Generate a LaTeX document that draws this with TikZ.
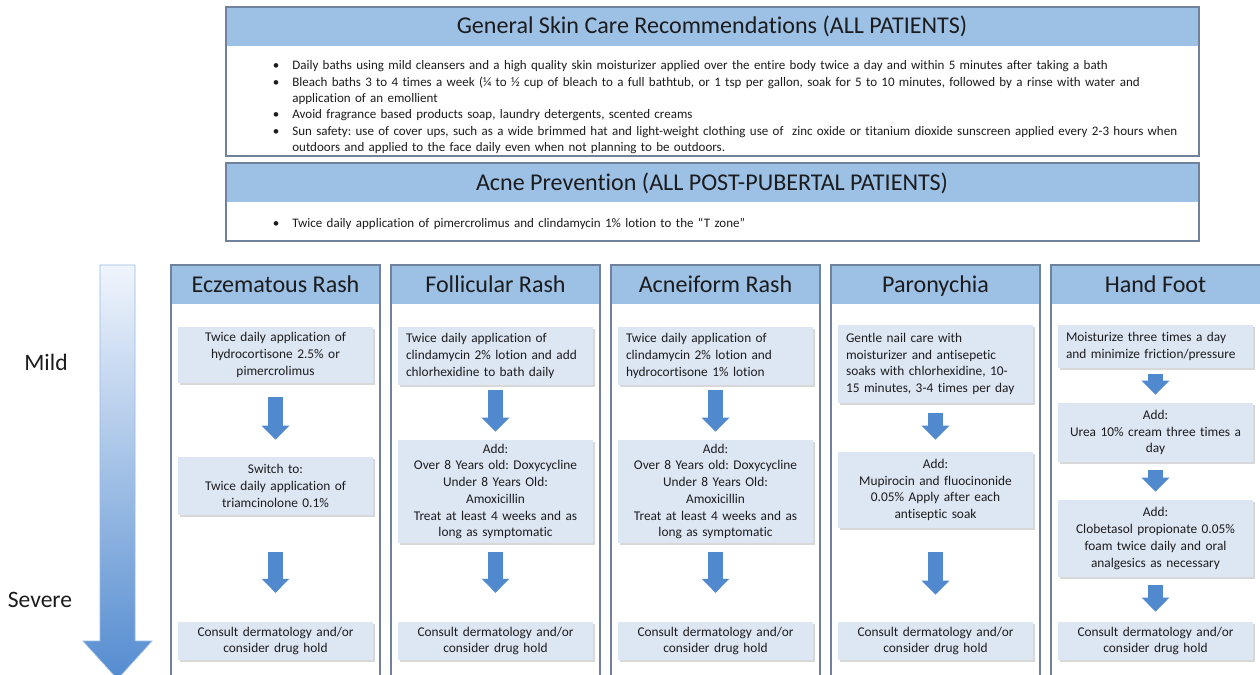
\documentclass[tikz,border=0pt]{standalone}
\usepackage{fontspec}
\setmainfont{Carlito}[Ligatures={TeX,NoCommon}]
\usepackage{enumitem}
\usetikzlibrary{arrows.meta,shadows}
\definecolor{bandblue}{RGB}{157,193,229}
\definecolor{panelline}{RGB}{112,130,155}
\definecolor{stepfill}{RGB}{221,231,243}
\definecolor{arrowblue}{RGB}{80,137,206}
\definecolor{bigtop}{RGB}{240,245,252}
\definecolor{bigbottom}{RGB}{84,140,208}
\definecolor{inkgray}{RGB}{28,28,30}
\frenchspacing
\begin{document}
\begin{tikzpicture}[x=0.02cm, y=0.02cm]
                \tikzstyle{every node}+=[inner sep=0pt, text=inkgray]
                \tikzstyle{panel}=[draw=panelline, line width=0.6pt]
                \tikzstyle{band}=[fill=bandblue]
                \tikzstyle{toptitle}=[font=\fontsize{13.7}{16}\selectfont]
                \tikzstyle{coltitle}=[anchor=base, font=\fontsize{13.7}{16}\selectfont]
                \tikzstyle{level}=[font=\fontsize{13.4}{15}\selectfont]
                \tikzstyle{bullets}=[anchor=north west, text width=18.4cm, font=\fontsize{7.4}{9.3}\selectfont]
                \tikzstyle{stepbox}=[fill=stepfill, drop shadow={shadow xshift=1.2pt, shadow yshift=-1.2pt, opacity=0.3}, minimum width=3.9cm, inner xsep=0.16cm, text width=3.58cm, align=center, font=\fontsize{7.6}{9.5}\selectfont]
                \tikzstyle{fatarrow}=[draw=arrowblue, line width=8.5pt, -{Triangle[width=15.3pt, length=8pt]}]
                \useasboundingbox (0,0) rectangle (1260,-675);
                \clip (0,0) rectangle (1260,-675);
                \fill [white] (0,0) rectangle (1260,-675);
                \fill [band] (226,-7) rectangle (1199,-46);
                \draw [panel] (226,-7) rectangle (1199,-156);
                \draw (712,-26) node [toptitle] (gentitle) {General Skin Care Recommendations (ALL PATIENTS)};
                \draw (270,-53) node [bullets] (genlist) {\begin{itemize}[nosep, leftmargin=0.44cm, labelsep=0.26cm, label=\textbullet]
                \item Daily baths using mild cleansers and a high quality skin moisturizer applied over the entire body twice a day and within 5 minutes after taking a bath
                \item Bleach baths 3 to 4 times a week (¼ to ½ cup of bleach to a full bathtub, or 1 tsp per gallon, soak for 5 to 10 minutes, followed by a rinse with water and\\ application of an emollient
                \item Avoid fragrance based products soap, laundry detergents, scented creams
                \item Sun safety: use of cover ups, such as a wide brimmed hat and light-weight clothing use of \ zinc oxide or titanium dioxide sunscreen applied every 2-3 hours when\\ outdoors and applied to the face daily even when not planning to be outdoors.
                \end{itemize}};
                \fill [band] (226,-163) rectangle (1199,-202);
                \draw [panel] (226,-163) rectangle (1199,-241);
                \draw (712,-183) node [toptitle] (acnetitle) {Acne Prevention (ALL POST-PUBERTAL PATIENTS)};
                \draw (270,-211) node [bullets] (acnelist) {\begin{itemize}[nosep, leftmargin=0.44cm, labelsep=0.26cm, label=\textbullet]
                \item Twice daily application of pimercrolimus and clindamycin 1\% lotion to the ``T zone''
                \end{itemize}};
                \shade [top color=bigtop, bottom color=bigbottom, draw=bigbottom!60, line width=0.4pt] (100,-265) -- (135,-265) -- (135,-641) -- (152,-641) -- (117.5,-679) -- (83,-641) -- (100,-641) -- cycle;
                \draw (46,-362) node [level] (mild) {Mild};
                \draw (40,-600) node [level] (severe) {Severe};
                \fill [band] (171,-265) rectangle (380,-304);
                \draw [panel] (171,-690) -- (171,-265) -- (380,-265) -- (380,-690);
                \draw (275.5,-292.5) node [coltitle] (ecztitle) {Eczematous Rash};
                \fill [band] (391,-265) rectangle (600,-304);
                \draw [panel] (391,-690) -- (391,-265) -- (600,-265) -- (600,-690);
                \draw (495.5,-292.5) node [coltitle] (foltitle) {Follicular Rash};
                \fill [band] (611,-265) rectangle (820,-304);
                \draw [panel] (611,-690) -- (611,-265) -- (820,-265) -- (820,-690);
                \draw (715.5,-292.5) node [coltitle] (acntitle) {Acneiform Rash};
                \fill [band] (831,-265) rectangle (1040,-304);
                \draw [panel] (831,-690) -- (831,-265) -- (1040,-265) -- (1040,-690);
                \draw (935.5,-292.5) node [coltitle] (partitle) {Paronychia};
                \fill [band] (1051,-265) rectangle (1262,-304);
                \draw [panel] (1051,-690) -- (1051,-265) -- (1262,-265);
                \draw (1155.5,-292.5) node [coltitle] (handtitle) {Hand Foot};
                \draw (275.5,-355) node [stepbox, minimum height=1.12cm] (ecz1) {Twice daily application of\\ hydrocortisone 2.5\% or\\ pimercrolimus};
                \draw (275.5,-486) node [stepbox, minimum height=1.16cm] (ecz2) {Switch to:\\ Twice daily application of\\ triamcinolone 0.1\%};
                \draw (275.5,-641) node [stepbox, minimum height=0.76cm] (ecz3) {Consult dermatology and/or\\ consider drug hold};
                \draw [fatarrow, shorten <=7.9pt, shorten >=9.6pt] (ecz1.south) -- (ecz2.north);
                \draw [fatarrow, shorten <=21pt, shorten >=16.4pt] (ecz2.south) -- (ecz3.north);
                \draw (495.5,-356) node [stepbox, minimum height=1.16cm, align=left] (fol1) {Twice daily application of\\ clindamycin 2\% lotion and add\\ chlorhexidine to bath daily};
                \draw (495.5,-491.5) node [stepbox, minimum height=2.06cm] (fol2) {Add:\\ Over 8 Years old: Doxycycline\\ Under 8 Years Old:\\ Amoxicillin\\ Treat at least 4 weeks and as\\ long as symptomatic};
                \draw (495.5,-641) node [stepbox, minimum height=0.76cm] (fol3) {Consult dermatology and/or\\ consider drug hold};
                \draw [fatarrow, shorten <=2.8pt, shorten >=4.5pt] (fol1.south) -- (fol2.north);
                \draw [fatarrow, shorten <=5.1pt, shorten >=16.4pt] (fol2.south) -- (fol3.north);
                \draw (715.5,-356) node [stepbox, minimum height=1.16cm, align=left] (acn1) {Twice daily application of\\ clindamycin 2\% lotion and\\ hydrocortisone 1\% lotion};
                \draw (715.5,-491.5) node [stepbox, minimum height=2.06cm] (acn2) {Add:\\ Over 8 Years old: Doxycycline\\ Under 8 Years Old:\\ Amoxicillin\\ Treat at least 4 weeks and as\\ long as symptomatic};
                \draw (715.5,-641) node [stepbox, minimum height=0.76cm] (acn3) {Consult dermatology and/or\\ consider drug hold};
                \draw [fatarrow, shorten <=2.8pt, shorten >=4.5pt] (acn1.south) -- (acn2.north);
                \draw [fatarrow, shorten <=5.1pt, shorten >=16.4pt] (acn2.south) -- (acn3.north);
                \draw (935.5,-364) node [stepbox, minimum height=1.56cm, align=left] (par1) {Gentle nail care with\\ moisturizer and antisepetic\\ soaks with chlorhexidine, 10-\\ 15 minutes, 3-4 times per day};
                \draw (935.5,-490) node [stepbox, minimum height=1.52cm] (par2) {Add:\\ Mupirocin and fluocinonide\\ 0.05\% Apply after each\\ antiseptic soak};
                \draw (935.5,-641) node [stepbox, minimum height=0.76cm] (par3) {Consult dermatology and/or\\ consider drug hold};
                \draw [fatarrow, shorten <=5.7pt, shorten >=6.8pt] (par1.south) -- (par2.north);
                \draw [fatarrow, shorten <=13.6pt, shorten >=15.3pt] (par2.south) -- (par3.north);
                \draw (1155.5,-346.5) node [stepbox, minimum height=0.86cm, align=left] (hand1) {Moisturize three times a day\\ and minimize friction/pressure};
                \draw (1155.5,-432.5) node [stepbox, minimum height=1.18cm] (hand2) {Add:\\ Urea 10\% cream three times a\\ day};
                \draw (1155.5,-538.5) node [stepbox, minimum height=1.54cm] (hand3) {Add:\\ Clobetasol propionate 0.05\%\\ foam twice daily and oral\\ analgesics as necessary};
                \draw (1155.5,-641) node [stepbox, minimum height=0.76cm] (hand4) {Consult dermatology and/or\\ consider drug hold};
                \draw [fatarrow, shorten <=3.4pt, shorten >=4.5pt] (hand1.south) -- (hand2.north);
                \draw [fatarrow, shorten <=4.5pt, shorten >=4.5pt] (hand2.south) -- (hand3.north);
                \draw [fatarrow, shorten <=4.5pt, shorten >=5.7pt] (hand3.south) -- (hand4.north);
            \end{tikzpicture}
\end{document}
